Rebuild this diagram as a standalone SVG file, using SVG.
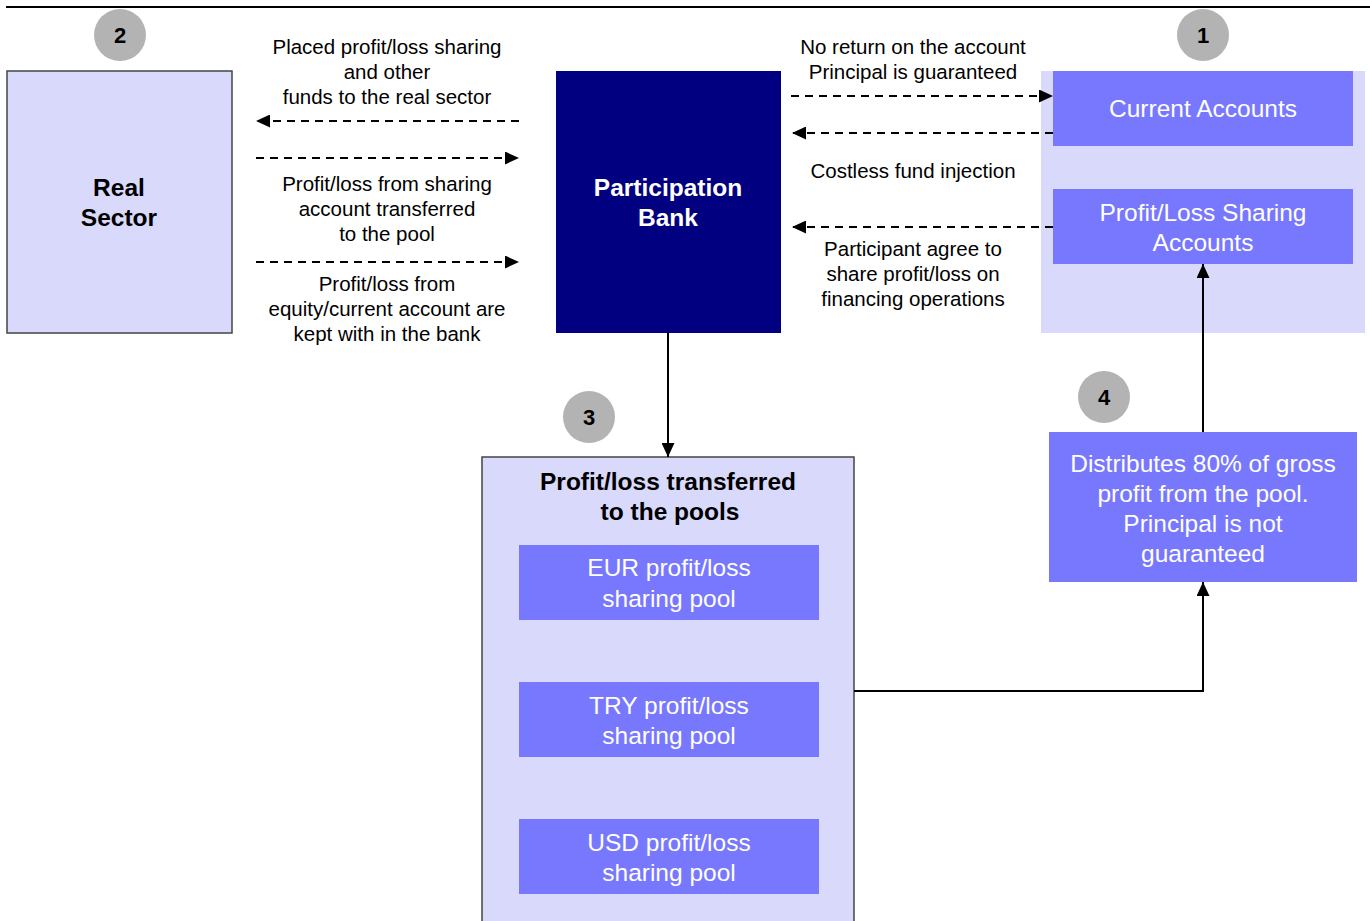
<svg xmlns="http://www.w3.org/2000/svg" width="1370" height="921" viewBox="0 0 1370 921">
<style>
.light{fill:#d9d9fc}
.lightb{fill:#d9d9fc;stroke:#444;stroke-width:1.5}
.mid{fill:#7878ff}
.dark{fill:#000080}
.circ{fill:#b3b3b3}
.num{font-family:"Liberation Sans",Arial,sans-serif;font-weight:bold;font-size:22px;fill:#000;text-anchor:middle}
.sm{font-family:"Liberation Sans",Arial,sans-serif;font-size:20.5px;fill:#000;text-anchor:middle}
.big{font-family:"Liberation Sans",Arial,sans-serif;font-size:24.5px;fill:#fff;text-anchor:middle}
.bold{font-family:"Liberation Sans",Arial,sans-serif;font-size:24.5px;font-weight:bold;text-anchor:middle}
.dash{stroke:#000;stroke-width:2;stroke-dasharray:8 6;fill:none}
.solid{stroke:#000;stroke-width:2;fill:none}
</style>
<defs>
<marker id="ah" markerUnits="userSpaceOnUse" markerWidth="15" markerHeight="13" refX="14" refY="6.5" orient="auto">
<path d="M0,0 L14,6.5 L0,13 Z" fill="#000"/>
</marker>
</defs>
<line x1="6" y1="7" x2="1370" y2="7" stroke="#000" stroke-width="2"/>

<g id="circle2"><circle class="circ" cx="120" cy="35" r="26"/><text class="num" x="120" y="43">2</text></g>
<g id="circle1"><circle class="circ" cx="1203" cy="35" r="26"/><text class="num" x="1203" y="43">1</text></g>
<g id="circle3"><circle class="circ" cx="589" cy="417" r="26"/><text class="num" x="589" y="425">3</text></g>
<g id="circle4"><circle class="circ" cx="1104" cy="397" r="26"/><text class="num" x="1104" y="405">4</text></g>

<g id="real-sector">
<rect class="lightb" x="7" y="71" width="225" height="262"/>
<text class="bold" x="119" y="196">Real</text>
<text class="bold" x="119" y="226">Sector</text>
</g>

<g id="participation-bank">
<rect class="dark" x="556" y="71" width="225" height="262"/>
<text class="bold" x="668" y="196" fill="#fff">Participation</text>
<text class="bold" x="668" y="226" fill="#fff">Bank</text>
</g>

<g id="accounts-panel">
<rect class="light" x="1041" y="71" width="324" height="262"/>
</g>
<g id="current-accounts">
<rect class="mid" x="1053" y="71" width="300" height="75"/>
<text class="big" x="1203" y="117">Current Accounts</text>
</g>
<g id="pls-accounts">
<rect class="mid" x="1053" y="189" width="300" height="75"/>
<text class="big" x="1203" y="221">Profit/Loss Sharing</text>
<text class="big" x="1203" y="251">Accounts</text>
</g>

<g id="pools">
<rect class="lightb" x="482" y="457" width="372" height="480"/>
<text class="bold" x="668" y="490" fill="#000">Profit/loss transferred</text>
<text class="bold" x="670" y="520" fill="#000">to the pools</text>
</g>
<g id="eur-pool">
<rect class="mid" x="519" y="545" width="300" height="75"/>
<text class="big" x="669" y="576">EUR profit/loss</text>
<text class="big" x="669" y="607">sharing pool</text>
</g>
<g id="try-pool">
<rect class="mid" x="519" y="682" width="300" height="75"/>
<text class="big" x="669" y="714">TRY profit/loss</text>
<text class="big" x="669" y="744">sharing pool</text>
</g>
<g id="usd-pool">
<rect class="mid" x="519" y="819" width="300" height="75"/>
<text class="big" x="669" y="851">USD profit/loss</text>
<text class="big" x="669" y="881">sharing pool</text>
</g>

<g id="distributes">
<rect class="mid" x="1049" y="432" width="308" height="150"/>
<text class="big" x="1203" y="472">Distributes 80% of gross</text>
<text class="big" x="1203" y="502">profit from the pool.</text>
<text class="big" x="1203" y="532">Principal is not</text>
<text class="big" x="1203" y="562">guaranteed</text>
</g>

<g id="connectors">
<line class="dash" x1="519" y1="121" x2="256" y2="121" marker-end="url(#ah)"/>
<line class="dash" x1="256" y1="158" x2="519" y2="158" marker-end="url(#ah)"/>
<line class="dash" x1="256" y1="262" x2="519" y2="262" marker-end="url(#ah)"/>
<line class="dash" x1="791" y1="96" x2="1053" y2="96" marker-end="url(#ah)"/>
<line class="dash" x1="1053" y1="133" x2="792" y2="133" marker-end="url(#ah)"/>
<line class="dash" x1="1053" y1="227" x2="792" y2="227" marker-end="url(#ah)"/>
<line class="solid" x1="668" y1="333" x2="668" y2="457" marker-end="url(#ah)"/>
<polyline class="solid" points="854,691 1203,691 1203,582" marker-end="url(#ah)"/>
<line class="solid" x1="1203" y1="432" x2="1203" y2="264" marker-end="url(#ah)"/>
</g>

<g id="labels">
<text class="sm" x="387" y="54">Placed profit/loss sharing</text>
<text class="sm" x="387" y="79">and other</text>
<text class="sm" x="387" y="104">funds to the real sector</text>
<text class="sm" x="387" y="191">Profit/loss from sharing</text>
<text class="sm" x="387" y="216">account transferred</text>
<text class="sm" x="387" y="241">to the pool</text>
<text class="sm" x="387" y="291">Profit/loss from</text>
<text class="sm" x="387" y="316">equity/current account are</text>
<text class="sm" x="387" y="341">kept with in the bank</text>
<text class="sm" x="913" y="54">No return on the account</text>
<text class="sm" x="913" y="79">Principal is guaranteed</text>
<text class="sm" x="913" y="178">Costless fund injection</text>
<text class="sm" x="913" y="256">Participant agree to</text>
<text class="sm" x="913" y="281">share profit/loss on</text>
<text class="sm" x="913" y="306">financing operations</text>
</g>
</svg>
